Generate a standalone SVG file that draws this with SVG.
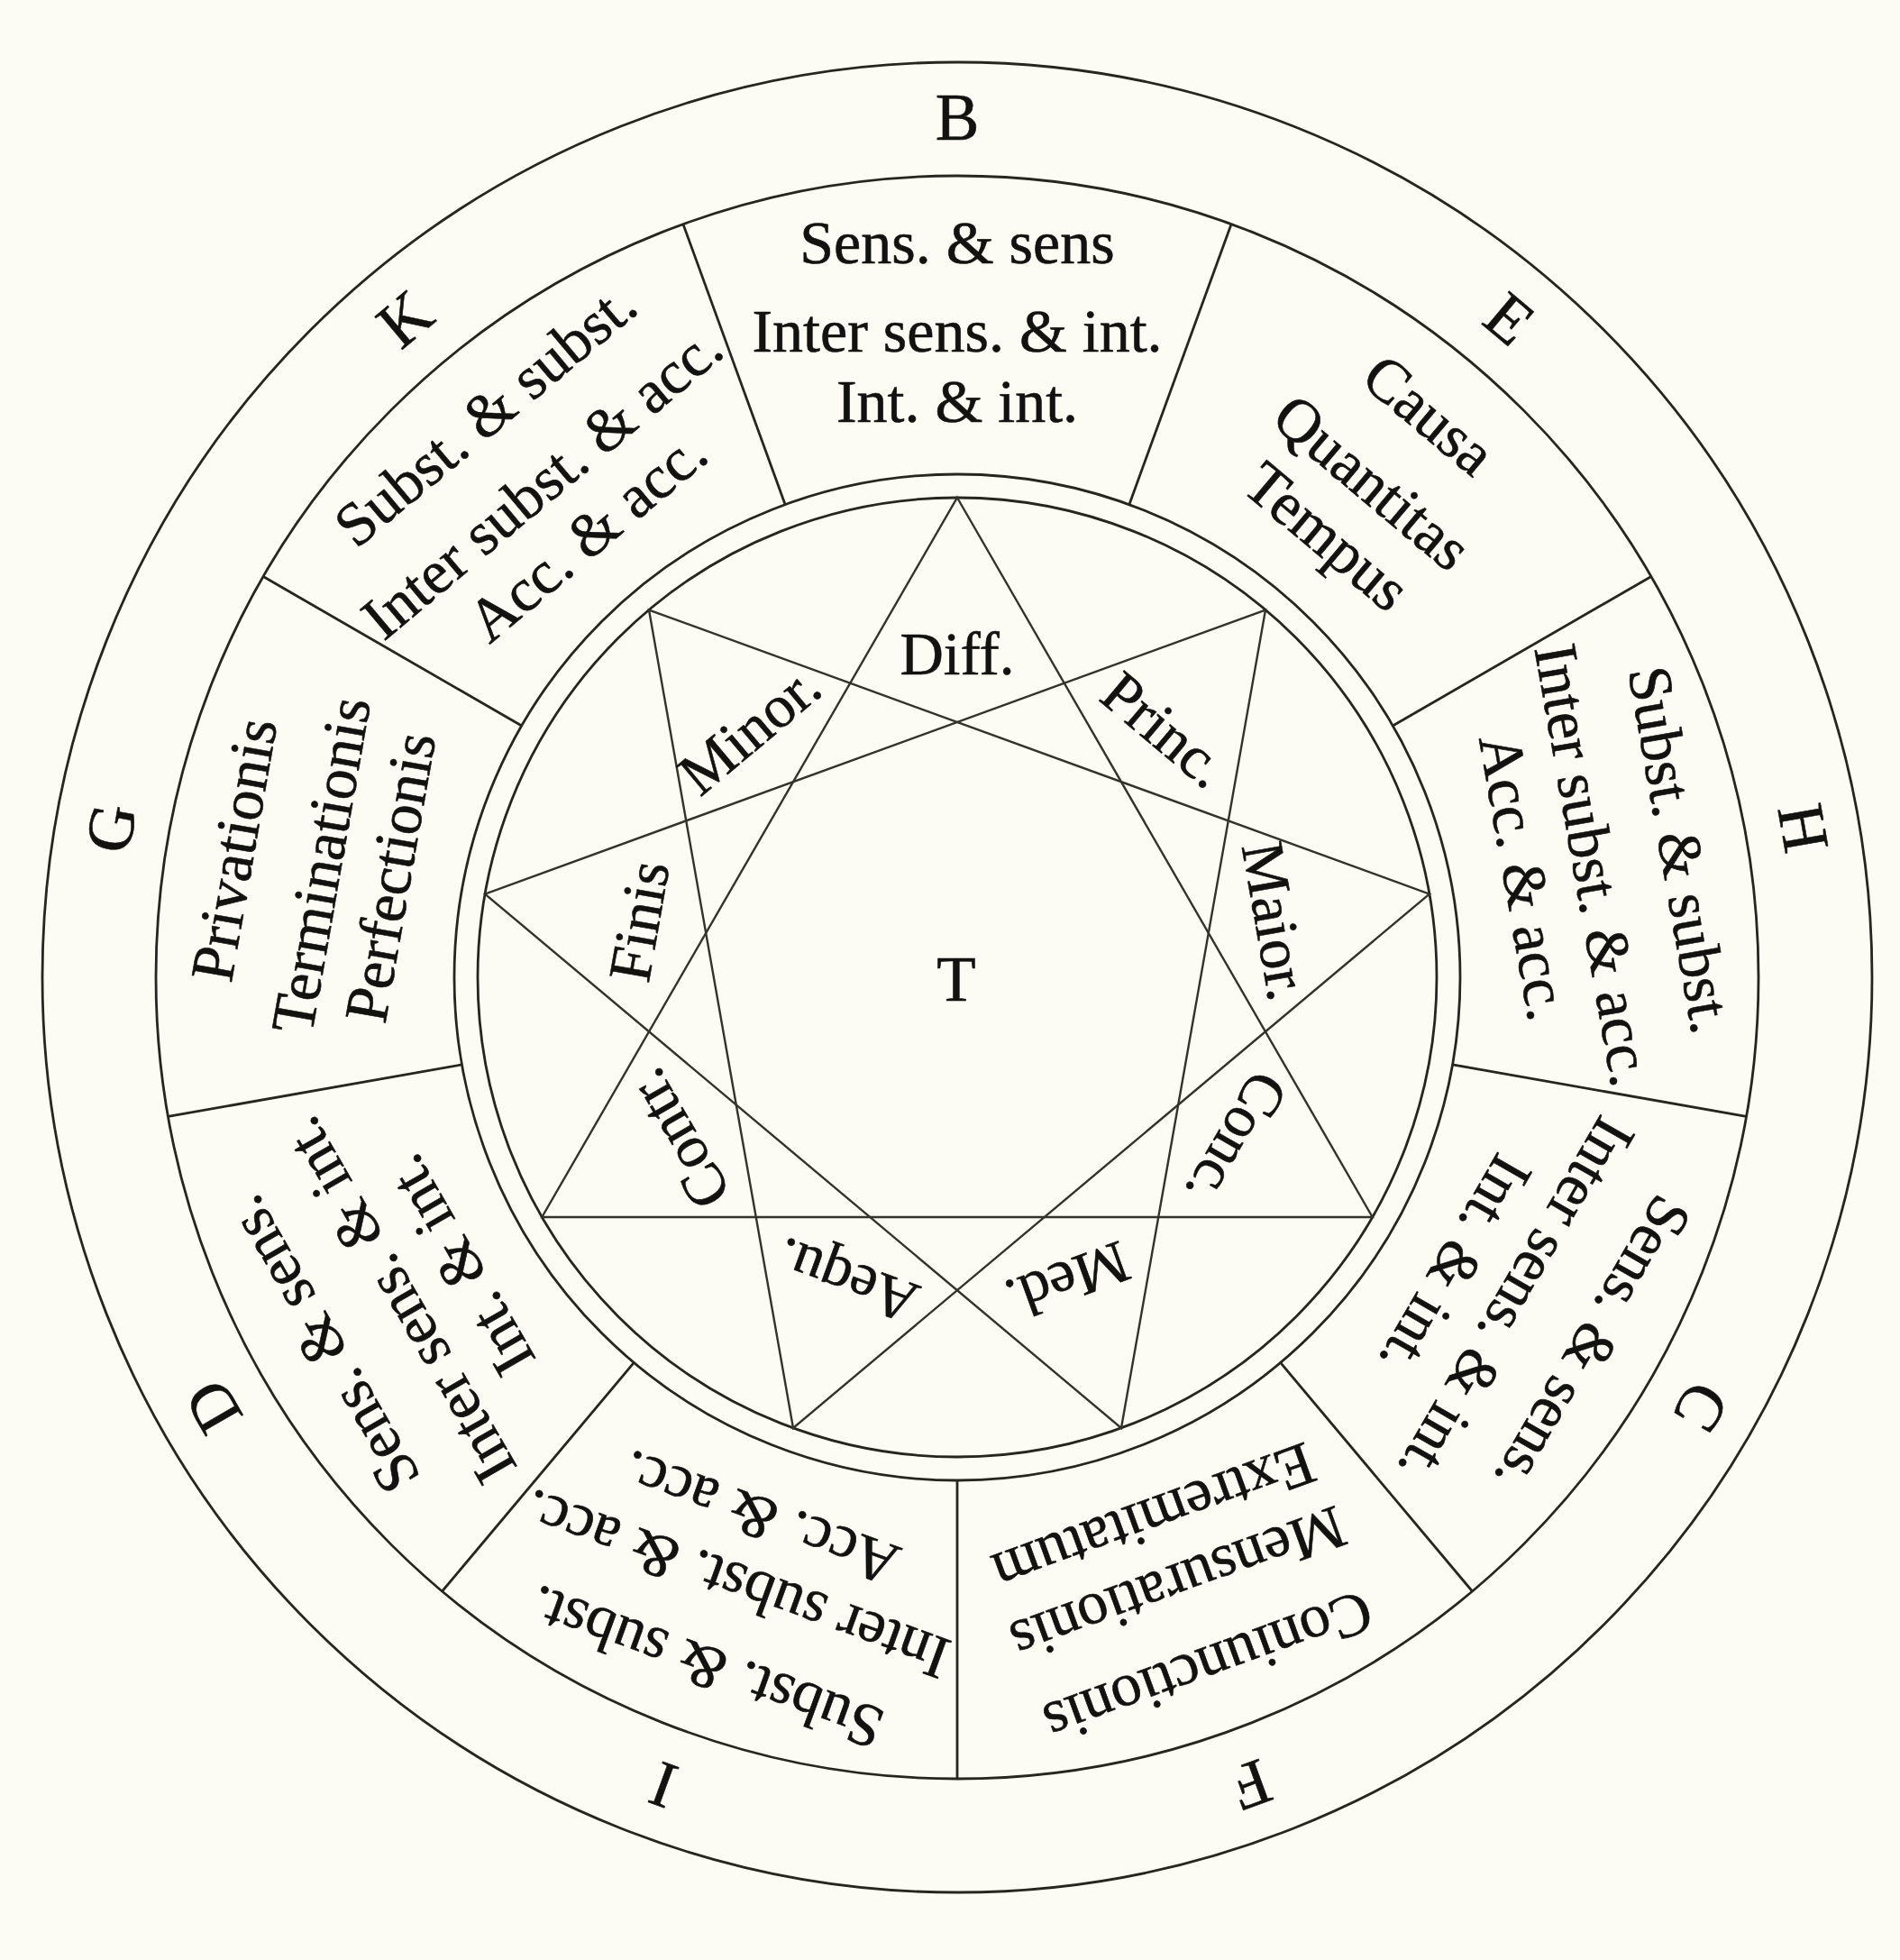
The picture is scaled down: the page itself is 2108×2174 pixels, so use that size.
<svg xmlns="http://www.w3.org/2000/svg" width="2108" height="2174" viewBox="0 0 2108 2174">
<style>
.ln{fill:none;stroke:#26261f;stroke-width:2.8}
.st{fill:none;stroke:#33332a;stroke-width:2.4}
.lt{font-family:"Liberation Serif","DejaVu Serif",serif;font-size:73px;fill:#121210;stroke:#121210;stroke-width:0.6;text-anchor:middle}
.tx{font-family:"Liberation Serif","DejaVu Serif",serif;font-size:68px;fill:#121210;stroke:#121210;stroke-width:0.6;text-anchor:middle}
.in{font-family:"Liberation Serif","DejaVu Serif",serif;font-size:67px;fill:#121210;stroke:#121210;stroke-width:0.6;text-anchor:middle}
</style>
<defs>
<line id="spoke" x1="1062" y1="526" x2="1062" y2="195"/>
</defs>
<rect width="2108" height="2174" fill="#fcfcf4"/>
<g id="circles" class="ln">
<circle cx="1062" cy="1084" r="1015"/>
<circle cx="1062" cy="1084" r="889"/>
<circle cx="1062" cy="1084" r="558"/>
<circle cx="1062" cy="1084" r="532"/>
</g>
<g id="connectors">
<g class="ln">
<use href="#spoke" transform="rotate(20 1062 1084)"/>
<use href="#spoke" transform="rotate(60 1062 1084)"/>
<use href="#spoke" transform="rotate(100 1062 1084)"/>
<use href="#spoke" transform="rotate(140 1062 1084)"/>
<use href="#spoke" transform="rotate(180 1062 1084)"/>
<use href="#spoke" transform="rotate(220 1062 1084)"/>
<use href="#spoke" transform="rotate(260 1062 1084)"/>
<use href="#spoke" transform="rotate(300 1062 1084)"/>
<use href="#spoke" transform="rotate(340 1062 1084)"/>
</g>
<g class="st">
<polygon points="1062,552 1522.7,1350 601.3,1350"/>
<polygon points="1404,676.5 1244,1583.9 538.1,991.6"/>
<polygon points="1585.9,991.6 880,1583.9 720,676.5"/>
</g>
</g>
<g id="sector-B">
<text class="lt" x="1062" y="155">B</text>
<text class="tx" x="1062" y="292">Sens. &amp; sens</text>
<text class="tx" x="1062" y="390">Inter sens. &amp; int.</text>
<text class="tx" x="1062" y="468">Int. &amp; int.</text>
</g>
<g id="sector-E" transform="rotate(40 1062 1084)">
<text class="lt" x="1062" y="155">E</text>
<text class="tx" x="1062" y="292">Causa</text>
<text class="tx" x="1062" y="390">Quantitas</text>
<text class="tx" x="1062" y="468">Tempus</text>
</g>
<g id="sector-H" transform="rotate(80 1062 1084)">
<text class="lt" x="1062" y="155">H</text>
<text class="tx" x="1062" y="292">Subst. &amp; subst.</text>
<text class="tx" x="1062" y="390">Inter subst. &amp; acc.</text>
<text class="tx" x="1062" y="468">Acc. &amp; acc.</text>
</g>
<g id="sector-C" transform="rotate(120 1062 1084)">
<text class="lt" x="1062" y="155">C</text>
<text class="tx" x="1062" y="292">Sens. &amp; sens.</text>
<text class="tx" x="1062" y="390">Inter sens. &amp; int.</text>
<text class="tx" x="1062" y="468">Int. &amp; int.</text>
</g>
<g id="sector-F" transform="rotate(160 1062 1084)">
<text class="lt" x="1062" y="155">F</text>
<text class="tx" x="1062" y="292">Coniunctionis</text>
<text class="tx" x="1062" y="390">Mensurationis</text>
<text class="tx" x="1062" y="468">Extremitatum</text>
</g>
<g id="sector-I" transform="rotate(200 1062 1084)">
<text class="lt" x="1062" y="155">I</text>
<text class="tx" x="1062" y="292">Subst. &amp; subst.</text>
<text class="tx" x="1062" y="390">Inter subst. &amp; acc.</text>
<text class="tx" x="1062" y="468">Acc. &amp; acc.</text>
</g>
<g id="sector-D" transform="rotate(240 1062 1084)">
<text class="lt" x="1062" y="155">D</text>
<text class="tx" x="1062" y="292">Sens. &amp; sens.</text>
<text class="tx" x="1062" y="390">Inter sens. &amp; int.</text>
<text class="tx" x="1062" y="468">Int. &amp; int.</text>
</g>
<g id="sector-G" transform="rotate(280 1062 1084)">
<text class="lt" x="1062" y="155">G</text>
<text class="tx" x="1062" y="292">Privationis</text>
<text class="tx" x="1062" y="390">Terminationis</text>
<text class="tx" x="1062" y="468">Perfectionis</text>
</g>
<g id="sector-K" transform="rotate(320 1062 1084)">
<text class="lt" x="1062" y="155">K</text>
<text class="tx" x="1062" y="292">Subst. &amp; subst.</text>
<text class="tx" x="1062" y="390">Inter subst. &amp; acc.</text>
<text class="tx" x="1062" y="468">Acc. &amp; acc.</text>
</g>
<g id="star-labels">
<text id="diff" class="in" x="1062" y="748">Diff.</text>
<text id="princ" class="in" x="1062" y="748" transform="rotate(40 1062 1084)">Princ.</text>
<text id="maior" class="in" x="1062" y="748" transform="rotate(80 1062 1084)">Maior.</text>
<text id="conc" class="in" x="1062" y="748" transform="rotate(120 1062 1084)">Conc.</text>
<text id="med" class="in" x="1062" y="748" transform="rotate(160 1062 1084)">Med.</text>
<text id="aequ" class="in" x="1062" y="748" transform="rotate(200 1062 1084)">Aequ.</text>
<text id="contr" class="in" x="1062" y="748" transform="rotate(240 1062 1084)">Contr.</text>
<text id="finis" class="in" x="1062" y="748" transform="rotate(280 1062 1084)">Finis</text>
<text id="minor" class="in" x="1062" y="748" transform="rotate(320 1062 1084)">Minor.</text>
</g>
<g id="center-T">
<text class="in" x="1061" y="1110" style="font-size:71px">T</text>
</g>
</svg>
